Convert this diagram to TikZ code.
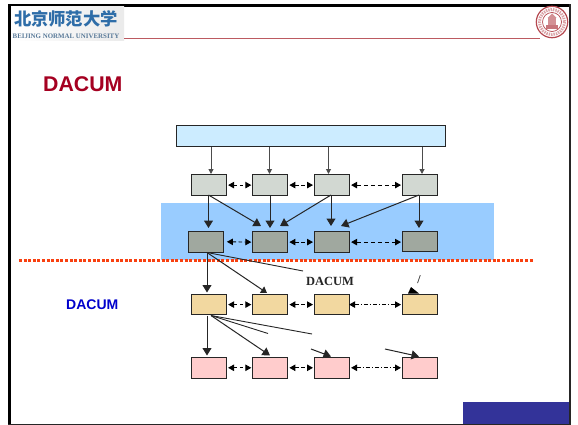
\documentclass[tikz,border=0pt]{standalone}
\usepackage{fontspec}
\setmainfont{Liberation Sans}
\newfontfamily\serifbold[Scale=1]{Liberation Serif}
\newfontfamily\cjkfont{Noto Sans CJK SC}
\usetikzlibrary{arrows.meta}
\definecolor{topfill}{HTML}{CCECFF}
\definecolor{greyfill}{HTML}{D2D8D2}
\definecolor{darkfill}{HTML}{A0A89F}
\definecolor{tanfill}{HTML}{F2D8A0}
\definecolor{pinkfill}{HTML}{FFCCCC}
\definecolor{band}{HTML}{99CCFF}
\definecolor{titlered}{HTML}{A50021}
\definecolor{navy}{HTML}{333399}
\definecolor{logoblue}{HTML}{2E6DA8}
\definecolor{seal}{HTML}{B5474F}
\definecolor{dotred}{HTML}{F84010}
\tikzset{
  x=1pt,y=-1pt,
  box/.style={draw=black!85,line width=1.1pt,inner sep=0pt,minimum width=35pt,minimum height=20.5pt,anchor=north west},
  tinyarrow/.style={draw=black!70,line width=1pt,-{Stealth[length=5pt,width=5pt,inset=0pt]}},
  bigarrow/.style={draw=black!85,line width=1pt,-{Stealth[length=7.5pt,width=9pt,inset=0pt]}},
  midarrow/.style={draw=black!85,line width=1pt,-{Stealth[length=6pt,width=7.5pt,inset=0pt]}},
  plainline/.style={draw=black!85,line width=.9pt},
  linkdash/.style={draw=black,line width=.9pt,dash pattern=on 3.5pt off 2.5pt,{Stealth[length=6pt,width=6.5pt,inset=0pt]}-{Stealth[length=6pt,width=6.5pt,inset=0pt]}},
  linklong/.style={draw=black,line width=.9pt,dash pattern=on 4pt off 3pt,{Stealth[length=6pt,width=6.5pt,inset=0pt]}-{Stealth[length=6pt,width=6.5pt,inset=0pt]}},
  linkdot/.style={draw=black,line width=.9pt,dash pattern=on 4pt off 2pt on 1pt off 2pt,{Stealth[length=6pt,width=6.5pt,inset=0pt]}-{Stealth[length=6pt,width=6.5pt,inset=0pt]}},
}
\begin{document}
\begin{tikzpicture}
\useasboundingbox (0,0) rectangle (578,425);
% frame
\fill[white] (0,0) rectangle (578,425);
\fill[black] (8,4) rectangle (571,7);
\fill[black] (8,4) rectangle (10.5,425);
\fill[black!85] (568.5,4) rectangle (570.5,424);
\fill[black!85] (8,423.8) rectangle (570.5,425);
% logo
\shade[left color=white,right color=black!8,draw=none] (11,7) rectangle (124,40.5);
\node[inner sep=0pt,text=logoblue,font=\cjkfont\bfseries\fontsize{17.3}{17.3}\selectfont] (logotext) at (66,19) {北京师范大学};
\node[inner sep=0pt,text=logoblue!70!black!75,font=\serifbold\bfseries\fontsize{6.9}{7}\selectfont] (logosub) at (66,36.7) {BEIJING NORMAL UNIVERSITY};
\draw[seal!90!white,line width=1.4pt] (124,38.8) -- (540,38.8);
% seal
\fill[white] (552,22) circle (16);
\draw[seal,line width=1.2pt] (552,22) circle (15.7);
\draw[seal,line width=.7pt] (552,22) circle (9.5);
\draw[seal!50!white,line width=3pt,dash pattern=on 1.4pt off 1pt] (552,22) circle (12.6);
\fill[seal!75!white] (546,25) rectangle (558,29);
\fill[seal!60!white] (548,18) rectangle (556,25);
\fill[seal!60!white] (552,13.5) -- (556.5,18) -- (547.5,18) -- cycle;
% title
\node[anchor=west,inner sep=0pt,text=titlered,font=\bfseries\fontsize{21.3}{21.3}\selectfont] (title) at (43,84) {DACUM};
% band
\fill[band] (161,203) rectangle (494,260);
% boxes
\node[box,fill=topfill,minimum width=269pt,minimum height=21pt] (top) at (176,125) {};
\foreach \n/\xx in {1/191,2/252.3,3/314,4/402}{
  \node[box,fill=greyfill] (a\n) at (\xx,174.3) {};
  \node[box,fill=tanfill] (c\n) at (\xx,293.8) {};
  \node[box,fill=pinkfill] (d\n) at (\xx,357) {};
}
\node[box,fill=darkfill] (b1) at (187.8,231) {};
\node[box,fill=darkfill] (b2) at (252.3,231.3) {};
\node[box,fill=darkfill] (b3) at (314,231.3) {};
\node[box,fill=darkfill] (b4) at (402,230.5) {};
% top arrows
\foreach \n/\xx in {1/211,2/269.5,3/328.5,4/422}{
  \coordinate (t\n) at (\xx,174);
  \draw[tinyarrow] (top.south -| t\n) -- (t\n);
}
% row links
\draw[linkdash] (a1.east) ++(1,0) -- ([xshift=-1pt]a2.west);
\draw[linkdash] (a2.east) ++(1,0) -- ([xshift=-1pt]a3.west);
\draw[linklong] (a3.east) ++(1,0) -- ([xshift=-1pt]a4.west);
\draw[linkdash] (b1.east) ++(3,0) -- ([xshift=-1pt]b2.west);
\draw[linkdash] (b2.east) ++(1,0) -- ([xshift=-1pt]b3.west);
\draw[linklong] (b3.east) ++(1,0) -- ([xshift=-1pt]b3.east -| b4.west);
\draw[linkdash] (c1.east) ++(1,0) -- ([xshift=-1pt]c2.west);
\draw[linkdash] (c2.east) ++(1,0) -- ([xshift=-1pt]c3.west);
\draw[linkdot] (c3.east) ++(-1,0) -- ([xshift=-1pt]c4.west);
\draw[linkdash] (d1.east) ++(1,0) -- ([xshift=-1pt]d2.west);
\draw[linkdash] (d2.east) ++(1,0) -- ([xshift=-1pt]d3.west);
\draw[linkdot] (d3.east) ++(1,0) -- ([xshift=-1pt]d4.west);
% a -> b
\coordinate (s1) at (208.5,195);
\coordinate (s2) at (270,195);
\coordinate (s3) at (331,195);
\coordinate (s4) at (419,195);
\coordinate (e12) at (261,226);
\coordinate (e22) at (270,228);
\coordinate (e32) at (280,226);
\coordinate (e33) at (331,226);
\coordinate (e43) at (341,226);
\coordinate (e11) at (208.5,228);
\coordinate (e44) at (419,228);
\draw[bigarrow] (s1) -- (e11);
\draw[bigarrow] (s1) -- (e12);
\draw[bigarrow] (s2) -- (e22);
\draw[bigarrow] (s3) -- (e32);
\draw[bigarrow] (s3) -- (e33);
\draw[bigarrow] (s4) -- (e43);
\draw[bigarrow] (s4) -- (e44);
% dotted line
\draw[draw=dotred,line width=3.3pt,dash pattern=on 3pt off 1.6pt] (19,260.3) -- (533,260.3);
% b -> c
\coordinate (s5) at (207,252.5);
\coordinate (e51) at (207,292.5);
\coordinate (e52) at (267,293);
\coordinate (f1) at (303,271);
\draw[bigarrow] (s5) -- (e51);
\draw[midarrow] (s5) -- (e52);
\draw[plainline] (s5) -- (f1);
\node[inner sep=0pt,font=\serifbold\bfseries\fontsize{12.5}{12.5}\selectfont,text=black!85] (lab1) at (330,281) {DACUM};
\node[inner sep=0pt,font=\serifbold\bfseries\fontsize{12}{12}\selectfont,text=black!85] (lab2) at (419,280) {/};
\path[fill=black] (408,293.5) -- (411,287) -- (419,293.5) -- cycle;
% c -> d
\coordinate (s6) at (211,315.5);
\coordinate (s7) at (207,315.5);
\coordinate (e61) at (207,355.5);
\coordinate (e62) at (270,355.5);
\coordinate (f2) at (268,333.5);
\coordinate (f3) at (312,334);
\coordinate (h1) at (311,349);
\coordinate (e63) at (331,356.5);
\coordinate (h2) at (385,349);
\coordinate (e64) at (419,356.5);
\draw[bigarrow] (s7) -- (e61);
\draw[bigarrow] (s6) -- (e62);
\draw[plainline] (s6) -- (f2);
\draw[plainline] (s6) -- (f3);
\draw[bigarrow] (h1) -- (e63);
\draw[bigarrow] (h2) -- (e64);
% left label
\node[anchor=west,inner sep=0pt,text=blue!80!black,font=\bfseries\fontsize{14}{14}\selectfont] (lab3) at (66,304.5) {DACUM};
% corner
\fill[navy] (463,402) rectangle (568.5,424);
\end{tikzpicture}
\end{document}
